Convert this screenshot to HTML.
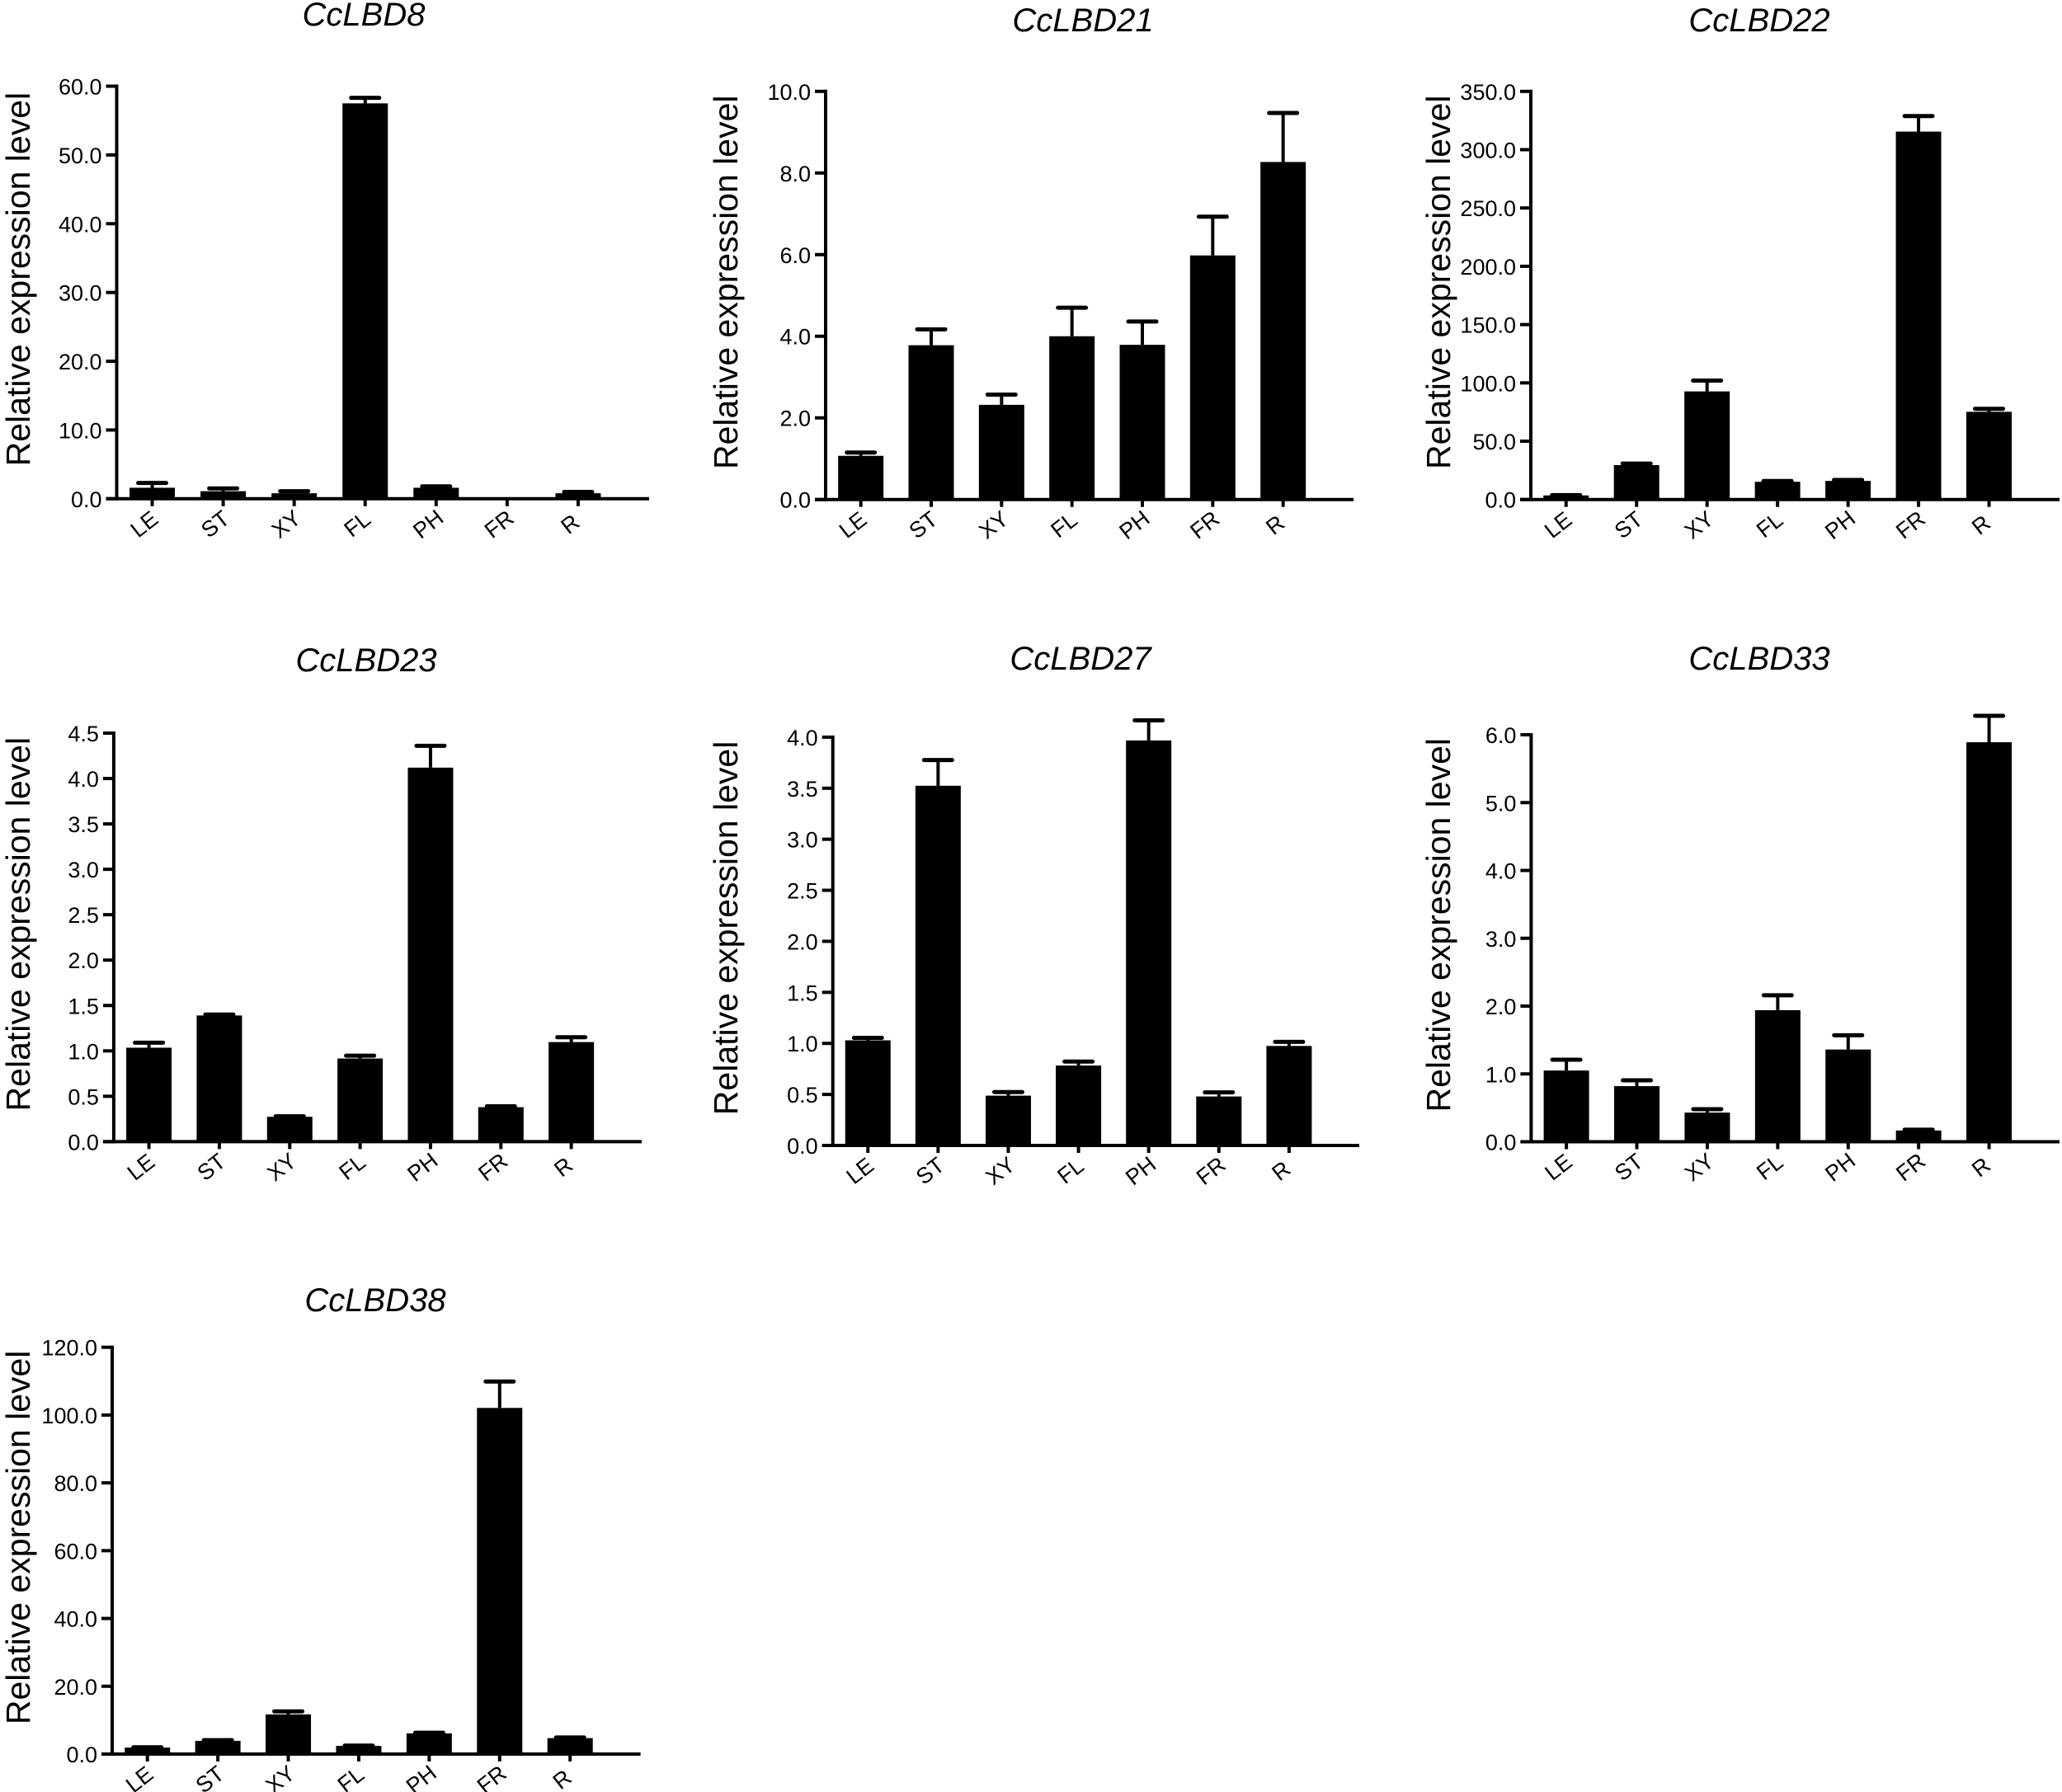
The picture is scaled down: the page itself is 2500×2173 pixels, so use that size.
<!DOCTYPE html>
<html><head><meta charset="utf-8"><title>CcLBD relative expression</title>
<style>
html,body{margin:0;padding:0;background:#fff;}
svg{display:block;font-family:"Liberation Sans",Arial,sans-serif;}
</style></head>
<body>
<svg id="fig" width="2500" height="2173" viewBox="0 0 2500 2173" xmlns="http://www.w3.org/2000/svg"></svg>
<script>
// ---- data ----
const categories = ["LE","ST","XY","FL","PH","FR","R"];
const titles = ["CcLBD8","CcLBD21","CcLBD22","CcLBD23","CcLBD27","CcLBD33","CcLBD38"];
const meansLBD8  = [1.6, 1.1, 0.8, 57.5, 1.6, 0.05, 0.8];
const errLBD8    = [0.7, 0.4, 0.3, 0.8, 0.2, 0.0, 0.2];
const meansLBD21 = [1.07, 3.78, 2.32, 4.0, 3.79, 5.98, 8.27];
const errLBD21   = [0.08, 0.39, 0.25, 0.7, 0.57, 0.95, 1.2];
const meansLBD22 = [3.5, 29.5, 92.7, 15.2, 15.9, 315.5, 75.2];
const errLBD22   = [0.3, 1.3, 9.3, 0.7, 0.9, 13.3, 2.6];
const meansLBD23 = [1.035, 1.39, 0.274, 0.916, 4.12, 0.38, 1.097];
const errLBD23   = [0.055, 0.01, 0.006, 0.031, 0.24, 0.01, 0.053];
const meansLBD27 = [1.03, 3.524, 0.488, 0.783, 3.968, 0.48, 0.975];
const errLBD27   = [0.024, 0.252, 0.035, 0.039, 0.197, 0.04, 0.04];
const meansLBD33 = [1.05, 0.82, 0.43, 1.94, 1.36, 0.166, 5.89];
const errLBD33   = [0.16, 0.086, 0.05, 0.22, 0.21, 0.012, 0.39];
const meansLBD38 = [1.9, 3.9, 11.7, 2.4, 6.1, 102.1, 4.7];
const errLBD38   = [0.1, 0.2, 0.9, 0.1, 0.2, 7.8, 0.2];
const yMax   = [60, 10, 350, 4.5, 4, 6, 120];
const yStep  = [10, 2, 50, 0.5, 0.5, 1, 20];
const yDecimals = [1, 1, 1, 1, 1, 1, 1];

const allMeans = [meansLBD8, meansLBD21, meansLBD22, meansLBD23, meansLBD27, meansLBD33, meansLBD38];
const allErrs  = [errLBD8, errLBD21, errLBD22, errLBD23, errLBD27, errLBD33, errLBD38];

// ---- layout (pixel geometry per panel) ----
const layout = [
  {ax:141.5, end:787,  zero:604.8, top:104.5, tx:441,  ty:31,   lx:22},
  {ax:1001,  end:1641, zero:605.7, top:110.8, tx:1313, ty:38,   lx:880},
  {ax:1856,  end:2497, zero:605.7, top:110.8, tx:2133, ty:38,   lx:1744},
  {ax:137.9, end:778,  zero:1384.4,top:889,   tx:444,  ty:814,  lx:22},
  {ax:1009.7,end:1648, zero:1389,  top:893.9, tx:1310, ty:812,  lx:880},
  {ax:1856.4,end:2497, zero:1384.5,top:891,   tx:2133, ty:812,  lx:1744},
  {ax:136,   end:776.6,zero:2127,  top:1633.7,tx:455,  ty:1590, lx:22}
];

const NS = "http://www.w3.org/2000/svg";
const svg = document.getElementById("fig");
function mk(tag, attrs, parent){
  const e = document.createElementNS(NS, tag);
  for (const k in attrs) e.setAttribute(k, attrs[k]);
  (parent||svg).appendChild(e);
  return e;
}

for (let c = 0; c < 7; c++) {
  const L = layout[c];
  const means = allMeans[c], errs = allErrs[c];
  const g = mk("g", {});
  
  
  const yScale = v => L.zero - (v / yMax[c]) * (L.zero - L.top);
  const band = (L.end - L.ax) / 7.5;
  const xCenter = i => L.ax + (i + 0.5) * band;
  const barW = 55;

  const t = mk("text", {x:L.tx, y:L.ty, "text-anchor":"middle", "font-size":40, "font-style":"italic"}, g);
  t.textContent = titles[c];
  
  

  const ymid = (L.zero + L.top) / 2 - 16;
  const yl = mk("text", {x:0, y:0, "text-anchor":"middle", "font-size":41,
    transform:"translate(" + (L.lx + 14) + "," + ymid + ") rotate(-90)"}, g);
  yl.textContent = "Relative expression level";
  
  

  for (let i = 0; i < categories.length; i++) {
    const cx = xCenter(i);
    const yTop = yScale(means[i]);
    const yErr = yScale(means[i] + errs[i]);
    if (errs[i] > 0) {
      const el = mk("line", {x1:cx, x2:cx, y1:yTop, y2:yErr, stroke:"#000", "stroke-width":4}, g);
      
      
      const cap = mk("line", {x1:cx-17, x2:cx+17, y1:yErr, y2:yErr, stroke:"#000", "stroke-width":5, "stroke-linecap":"round"}, g);
      
      
    }
    const r = mk("rect", {x:cx - barW/2, y:yTop, width:barW, height:Math.max(0, L.zero - yTop), fill:"#000"}, g);
    
    

    const tk = mk("line", {x1:cx, x2:cx, y1:L.zero, y2:L.zero + 9, stroke:"#000", "stroke-width":4}, g);
    
    
    const lb = mk("text", {x:0, y:0, "text-anchor":"middle", "font-size":27,
      transform:"translate(" + (cx - 4) + "," + (L.zero + 38) + ") rotate(-38)"}, g);
    lb.textContent = categories[i];
    
    
  }

  const ya = mk("line", {x1:L.ax, x2:L.ax, y1:L.top - 2, y2:L.zero + 2, stroke:"#000", "stroke-width":4}, g);
  
  
  const xa = mk("line", {x1:L.ax - 13, x2:L.end, y1:L.zero, y2:L.zero, stroke:"#000", "stroke-width":4}, g);
  
  

  const n = Math.round(yMax[c] / yStep[c]);
  for (let k = 0; k <= n; k++) {
    const v = k * yStep[c];
    const y = yScale(v);
    const tl = mk("line", {x1:L.ax - 13, x2:L.ax, y1:y, y2:y, stroke:"#000", "stroke-width":4}, g);
    
    
    const tt = mk("text", {x:L.ax - 18, y:y + 10, "text-anchor":"end", "font-size":27}, g);
    tt.textContent = v.toFixed(yDecimals[c]);
    
    
  }
}
</script>
</body></html>
